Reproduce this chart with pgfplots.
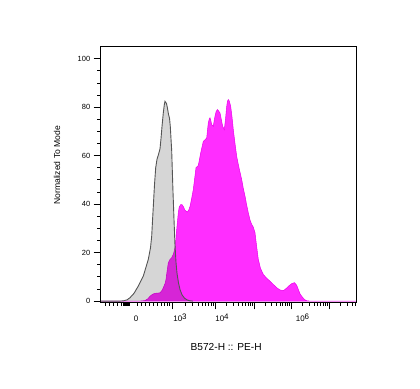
\documentclass[border=0pt]{standalone}
\usepackage{fontspec}
\setmainfont{Liberation Sans}
\usepackage{pgfplots}
\pgfplotsset{compat=1.18}
\definecolor{magF}{RGB}{255,45,255}
\definecolor{magL}{RGB}{235,0,235}
\definecolor{grayL}{RGB}{85,85,85}
\newcommand{\supx}[1]{\raisebox{0.6ex}{#1}}
\begin{document}
\begin{tikzpicture}
\begin{axis}[
  at={(0,0)}, anchor=south west,
  scale only axis, width=256bp, height=256bp,
  xmin=100.7, xmax=356.7, ymin=-0.5, ymax=105.1,
  axis on top,
  /pgf/number format/assume math mode=true,
  axis line style={line width=0.8bp},
  tick align=outside, xtick pos=bottom, ytick pos=left,
  major tick length=7bp, minor tick length=3.5bp,
  every tick/.style={black, line width=0.8bp},
  ytick={0,20,40,60,80,100}, minor y tick num=3,
  xtick={172,215,254,291,329}, xticklabels={},
  minor xtick={105,109,113,117,121,123.5,124.5,125.5,126.5,127.5,128.5,129.5,137,141,145,149,153,157,161,164.5,167,169.5,185,192.5,198,202,205.5,208,211,213,226.7,233.6,238.5,242.3,245.3,247.9,250.2,252.2,265.1,271.7,276.3,279.9,282.8,285.3,287.4,289.3,302.4,309.1,313.9,317.6,320.6,323.1,325.3,327.3,340.4,347.1,351.9,355.6},
  extra x ticks={136,180,222,302.5},
  extra x tick labels={0,10\supx{3},10\supx{4},10\supx{6}},
  extra x tick style={major tick length=0pt, tick style={draw=none},
     xticklabel style={font=\fontsize{8}{9}\selectfont, anchor=base, yshift=-19.5bp}},
  yticklabel style={font=\fontsize{7.5}{9}\selectfont},
  xlabel={B572-H :: PE-H},
  xlabel style={font=\fontsize{10.2}{12}\selectfont, at={(axis description cs:0.49,-0.176)}, anchor=center},
  ylabel={Normalized To Mode},
  ylabel style={font=\fontsize{8.6}{10}\selectfont, at={(axis description cs:-0.17,0.535)}, anchor=center},
]
\addplot[draw=magL, line width=0.5bp, fill=magF] table {
x y
100.7 0
140 0
145 0.2
148 1
150 2
152.5 2.8
155 3.2
158 3.3
160 3.4
162 4.4
163.3 5.5
165 7.2
166 8.9
167 12
168.3 15.8
170 17.2
171.7 17.9
173.5 19.5
175 22
176 26
176.7 29.5
177.5 33
178.3 36.4
179.2 38.8
180.7 39.8
182 39.8
183.3 39
185 37.5
187.3 36.7
188.7 37.5
190 39
191.5 42
193.3 46
194.5 50
196 55
198.3 55.9
199.5 58.5
200.7 61.1
202 63.5
203.3 65.9
205 66.5
206.7 67.3
207.5 70.5
208.3 73.5
209.2 75
210 75.6
210.8 74.5
211.7 72.8
213.3 72.1
214.2 74.5
215 76.2
216 78
217.3 79
218.5 78.5
220 77.6
221.5 74.5
222.7 72.1
224.3 70.7
225.5 75
226.7 80.3
227.5 82.5
228.3 83.1
229.3 82.5
230.7 80.3
232 76
233.3 70.7
235 65
236.7 59.7
239 55
241.7 50.1
243.3 46.5
245 43.3
246.5 40
248.3 36.4
250 33.5
251.7 31.6
253.3 30.5
255 28.2
256.5 23
258.3 17.2
260.5 13.5
263.3 11
266.5 9.5
270 8.2
273 7
276.7 5.5
280 4.6
283.3 4.3
285 4.8
287 5.5
289 6.3
291.7 7.2
294.5 7.6
296.7 6.5
298.3 4.8
300 3
301.7 2
303.3 1.2
305 0.5
307 0.1
310 0
356.7 0
} \closedcycle;
\addplot[draw=none, fill=black, fill opacity=0.16] table {
x y
100.7 0
120 0
123.3 0.1
127 0.5
130 1.4
134 3.2
138.3 6.2
143.3 10.3
148.3 17.2
150.5 22
151.7 26.8
152.5 33
153.3 39
154.5 48
155.7 55
157 58.5
158.5 60.5
160 62.8
161 67
162 72
163.3 77.6
164.3 81
165 82.4
166.5 81.5
167.5 79.5
168.5 77
169.5 75.5
170.3 72
171 67
171.7 62
172.3 54
173 45
174 33.7
175 23
176 16
177 11.5
178.5 7.5
180 4.8
182 2.6
184.5 1.2
187 0.5
190 0.1
193 0
356.7 0
} \closedcycle;
\addplot[draw=grayL, line width=0.9bp] table {
x y
100.7 0
120 0
123.3 0.1
127 0.5
130 1.4
134 3.2
138.3 6.2
143.3 10.3
148.3 17.2
150.5 22
151.7 26.8
152.5 33
153.3 39
154.5 48
155.7 55
157 58.5
158.5 60.5
160 62.8
161 67
162 72
163.3 77.6
164.3 81
165 82.4
166.5 81.5
167.5 79.5
168.5 77
169.5 75.5
170.3 72
171 67
171.7 62
172.3 54
173 45
174 33.7
175 23
176 16
177 11.5
178.5 7.5
180 4.8
182 2.6
184.5 1.2
187 0.5
190 0.1
193 0
};
\end{axis}
\pgfresetboundingbox
\path[use as bounding box] (-100.7bp,-86bp) rectangle (319.3bp,302.3bp);
\end{tikzpicture}
\end{document}
